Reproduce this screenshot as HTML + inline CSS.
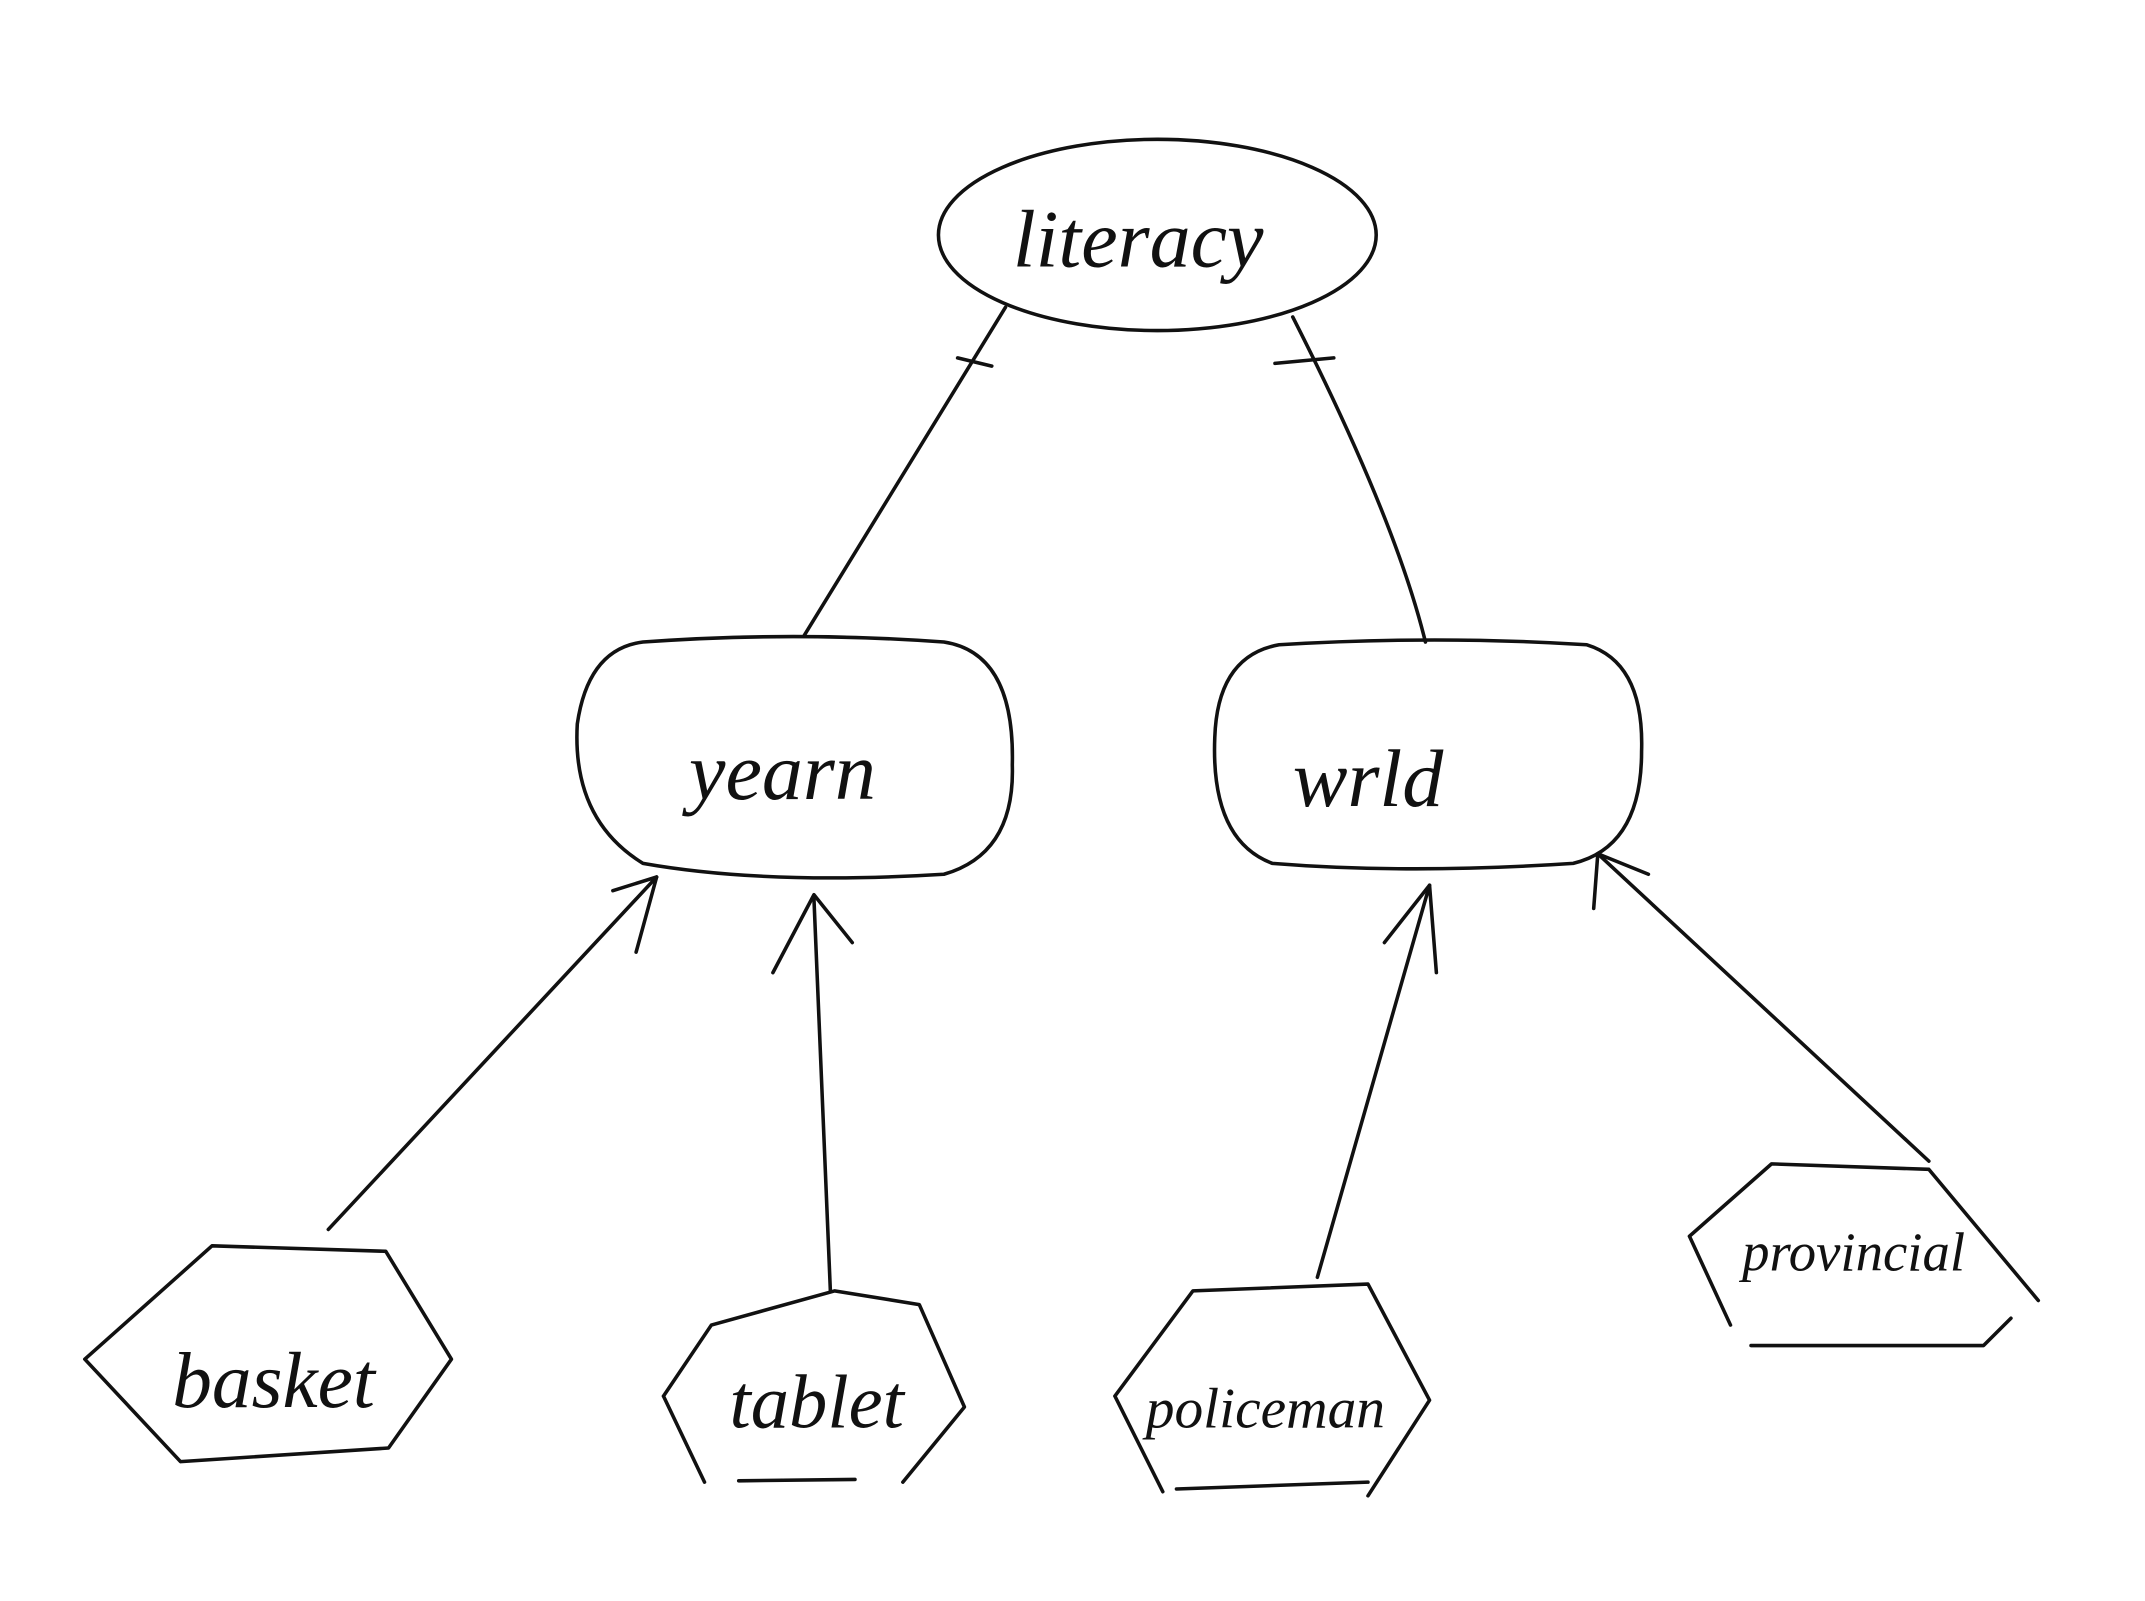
<!DOCTYPE html>
<html><head><meta charset="utf-8"><style>
html,body{margin:0;padding:0;background:#fff;}
svg{display:block;}
text{font-family:"Liberation Serif",serif;font-style:italic;fill:#111;}
</style></head><body>
<svg width="2145" height="1601" viewBox="0 0 1568 1172" preserveAspectRatio="none" xmlns="http://www.w3.org/2000/svg">
<g fill="none" stroke="#111" stroke-width="2.6" stroke-linecap="round" stroke-linejoin="round">
<!-- literacy -->
<ellipse cx="846" cy="172" rx="160" ry="70"/>
<!-- yearn -->
<path d="M470,470 Q430,475 422,530 Q418,600 470,632 Q560,648 690,640 Q742,625 740,560 Q742,478 690,470 Q580,462 470,470 Z"/>
<!-- wrld -->
<path d="M935,472 Q890,480 888,540 Q885,615 930,632 Q1030,640 1150,632 Q1200,620 1200,550 Q1202,485 1160,472 Q1050,465 935,472 Z"/>
<!-- hexagons -->
<path d="M62,995 L155,912 L282,916 L330,995 L284,1060 L132,1070 Z"/>
<path d="M485,1022 L520,970 L610,945 L672,955 L705,1030 L660,1085 M625,1083 L540,1084 M515,1085 L485,1022"/>
<path d="M815,1022 L872,945 L1000,940 L1045,1025 L1000,1095 M1000,1085 L860,1090 M850,1092 L815,1022"/>
<path d="M1235,905 L1295,852 L1410,856 L1490,952 M1470,965 L1450,985 L1280,985 M1265,970 L1235,905"/>
<!-- connectors -->
<path d="M735,225 L588,465"/>
<path d="M700,262 L725,268"/>
<path d="M945,232 Q1020,380 1042,470"/>
<path d="M932,266 L975,262"/>
<path d="M240,900 L480,642"/>
<path d="M448,652 L480,642 L465,697"/>
<path d="M607,945 L595,658"/>
<path d="M565,712 L595,655 L623,690"/>
<path d="M963,935 L1045,648"/>
<path d="M1012,690 L1045,648 L1050,712"/>
<path d="M1410,850 L1168,625"/>
<path d="M1205,640 L1168,625 L1165,665"/>
</g>
<g font-size="60" text-anchor="middle">
<text x="832" y="195">literacy</text>
<text x="572" y="585">yearn</text>
<text x="1000" y="590">wrld</text>
<text x="200" y="1030" font-size="58">basket</text>
<text x="597" y="1045" font-size="56">tablet</text>
<text x="925" y="1045" font-size="42">policeman</text>
<text x="1355" y="930" font-size="40">provincial</text>
</g>
</svg>
</body></html>
